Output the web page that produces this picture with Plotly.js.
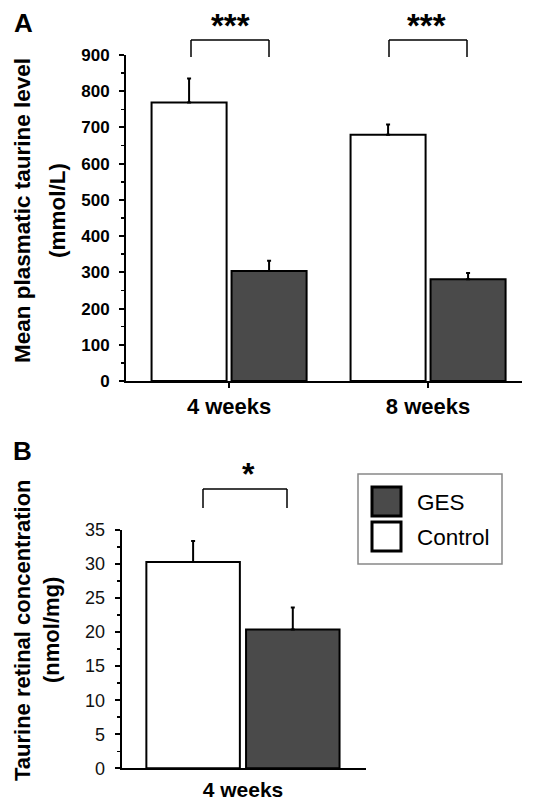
<!DOCTYPE html>
<html>
<head>
<meta charset="utf-8">
<script src="https://cdn.plot.ly/plotly-3.0.1.min.js"></script>
<style>
  html, body { margin: 0; padding: 0; background: #ffffff; }
  #chart { width: 535px; height: 806px; }
</style>
</head>
<body>
<div id="chart"></div>
<script>
// ---- Data ----
const categoriesA = ['4 weeks', '8 weeks'];
const controlA = [769, 680];
const controlAErr = [66, 28];
const gesA = [304, 281];
const gesAErr = [28, 17];

const categoriesB = ['4 weeks'];
const controlB = [30.3];
const controlBErr = [3.1];
const gesB = [20.4];
const gesBErr = [3.2];

const seriesNames = ['GES', 'Control'];
const panelLabels = ['A', 'B'];
const sigA = ['***', '***'];
const sigB = ['*'];
const yTitleA = ['Mean plasmatic taurine level', '(mmol/L)'];
const yTitleB = ['Taurine retinal concentration', '(nmol/mg)'];

// ---- Layout helpers (pixel -> paper) ----
const W = 535, H = 806;
const px = x => x / W;
const py = y => 1 - y / H;
const FONT = 'Arial, "Liberation Sans", Helvetica, sans-serif';
const GES_COLOR = '#4a4a4a';

function errUp(arr) {
  return { type: 'data', symmetric: false, array: arr, arrayminus: arr.map(() => 0),
           color: '#000', thickness: 2, width: 2 };
}

const traces = [
  { type: 'bar', name: seriesNames[1], x: categoriesA, y: controlA, xaxis: 'x', yaxis: 'y',
    marker: { color: '#ffffff', line: { color: '#000', width: 2 } }, error_y: errUp(controlAErr), showlegend: false },
  { type: 'bar', name: seriesNames[0], x: categoriesA, y: gesA, xaxis: 'x', yaxis: 'y',
    marker: { color: GES_COLOR, line: { color: '#000', width: 2 } }, error_y: errUp(gesAErr), showlegend: false },
  { type: 'bar', name: seriesNames[1], x: categoriesB, y: controlB, xaxis: 'x2', yaxis: 'y2',
    marker: { color: '#ffffff', line: { color: '#000', width: 2 } }, error_y: errUp(controlBErr), showlegend: false },
  { type: 'bar', name: seriesNames[0], x: categoriesB, y: gesB, xaxis: 'x2', yaxis: 'y2',
    marker: { color: GES_COLOR, line: { color: '#000', width: 2 } }, error_y: errUp(gesBErr), showlegend: false }
];

const shapes = [];
const annotations = [];

function bracket(x0, x1, yTop, yBot) {
  const l = { color: '#000', width: 1.5 };
  shapes.push({ type: 'line', xref: 'paper', yref: 'paper', x0: px(x0), x1: px(x1), y0: py(yTop), y1: py(yTop), line: l });
  shapes.push({ type: 'line', xref: 'paper', yref: 'paper', x0: px(x0), x1: px(x0), y0: py(yTop), y1: py(yBot), line: l });
  shapes.push({ type: 'line', xref: 'paper', yref: 'paper', x0: px(x1), x1: px(x1), y0: py(yTop), y1: py(yBot), line: l });
}
function label(text, x, y, opts) {
  annotations.push(Object.assign({ text: text, xref: 'paper', yref: 'paper', x: px(x), y: py(y),
    xanchor: 'center', yanchor: 'middle', showarrow: false,
    font: { family: FONT, size: 22.5, color: '#000', weight: 'bold' } }, opts || {}));
}

// Significance brackets
bracket(191, 269, 40, 57);
bracket(389, 467, 40, 57);
bracket(203, 287, 489, 508);
label(sigA[0], 230, 26, { font: { family: FONT, size: 33, color: '#000', weight: 'bold' } });
label(sigA[1], 426, 26, { font: { family: FONT, size: 33, color: '#000', weight: 'bold' } });
label(sigB[0], 248, 474, { font: { family: FONT, size: 32, color: '#000', weight: 'bold' } });

// Panel labels
label(panelLabels[0], 23, 23, { font: { family: FONT, size: 26, color: '#000', weight: 'bold' } });
label(panelLabels[1], 22, 451, { font: { family: FONT, size: 26, color: '#000', weight: 'bold' } });

// Y axis titles (two lines each)
label(yTitleA[0], 23, 211, { textangle: -90 });
label(yTitleA[1], 58, 211, { textangle: -90 });
label(yTitleB[0], 22, 630, { textangle: -90, font: { family: FONT, size: 22, color: '#000', weight: 'bold' } });
label(yTitleB[1], 51, 630, { textangle: -90, font: { family: FONT, size: 22, color: '#000', weight: 'bold' } });

// Legend box (custom)
shapes.push({ type: 'rect', xref: 'paper', yref: 'paper', x0: px(358), x1: px(502), y0: py(474), y1: py(564),
  line: { color: '#888', width: 1.5 }, fillcolor: 'rgba(0,0,0,0)' });
shapes.push({ type: 'rect', xref: 'paper', yref: 'paper', x0: px(372), x1: px(401), y0: py(487), y1: py(516),
  line: { color: '#000', width: 3 }, fillcolor: GES_COLOR });
shapes.push({ type: 'rect', xref: 'paper', yref: 'paper', x0: px(372), x1: px(401), y0: py(522), y1: py(551),
  line: { color: '#000', width: 3 }, fillcolor: '#ffffff' });
label(seriesNames[0], 415, 502, { xanchor: 'left', font: { family: FONT, size: 22.5, color: '#000' } });
label(seriesNames[1], 415, 537, { xanchor: 'left', font: { family: FONT, size: 22.5, color: '#000' } });

const axisCommon = { showline: true, linecolor: '#000', linewidth: 2, showgrid: false, zeroline: false,
  ticks: 'outside', tickcolor: '#000', tickwidth: 2, fixedrange: true };

const layout = {
  width: W, height: H,
  margin: { l: 0, r: 0, t: 0, b: 0 },
  paper_bgcolor: '#ffffff', plot_bgcolor: '#ffffff',
  barmode: 'group', bargap: 0.196, bargroupgap: 0.062,
  showlegend: false,
  font: { family: FONT, color: '#000' },
  xaxis: Object.assign({}, axisCommon, {
    domain: [px(126), px(522)], anchor: 'y', type: 'category', range: [-0.518, 1.472],
    ticklen: 5, tickfont: { family: FONT, size: 22, weight: 'bold', color: '#000' }, ticklabelstandoff: 0
  }),
  yaxis: Object.assign({}, axisCommon, {
    domain: [py(381), py(55)], anchor: 'x', range: [0, 900], dtick: 100, tick0: 0,
    ticklen: 5, tickfont: { family: FONT, size: 17, weight: 'bold', color: '#000' }, ticklabelstandoff: 6,
    minor: { dtick: 50, ticks: 'outside', ticklen: 3, tickcolor: '#000', tickwidth: 1.5 }
  }),
  xaxis2: Object.assign({}, axisCommon, {
    domain: [px(121.7), px(365.7)], anchor: 'y2', type: 'category', range: [-0.489, 0.495],
    ticks: '', tickfont: { family: FONT, size: 21, weight: 'bold', color: '#000' }, ticklabelstandoff: 1
  }),
  yaxis2: Object.assign({}, axisCommon, {
    domain: [py(768.3), py(530)], anchor: 'x2', range: [0, 35], dtick: 5, tick0: 0,
    ticklen: 5, tickfont: { family: FONT, size: 18, color: '#111' }, ticklabelstandoff: 6,
    minor: { dtick: 2.5, ticks: 'outside', ticklen: 3, tickcolor: '#000', tickwidth: 1.5 }
  }),
  shapes: shapes,
  annotations: annotations
};

Plotly.newPlot('chart', traces, layout, { displayModeBar: false, staticPlot: true });
</script>
</body>
</html>
